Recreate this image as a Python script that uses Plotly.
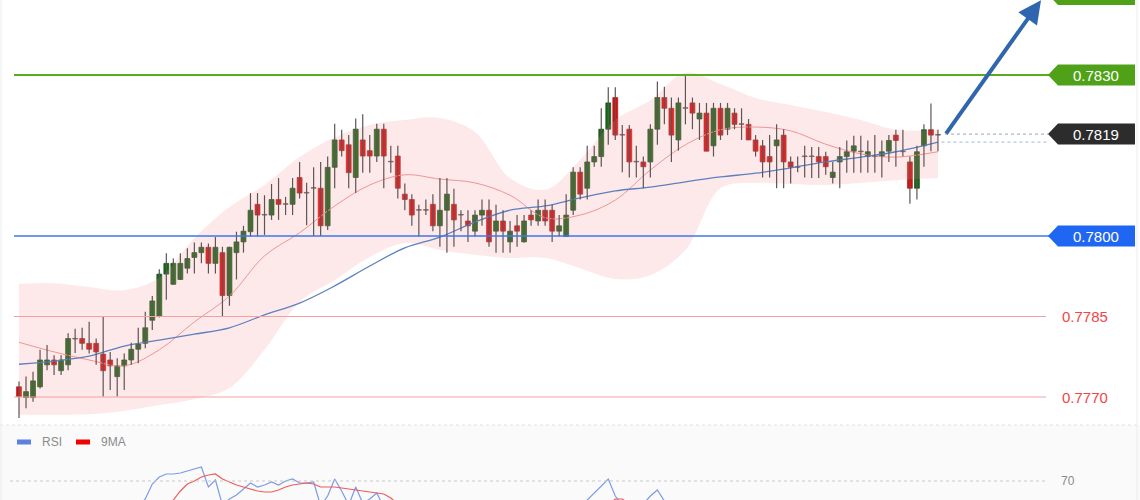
import plotly.graph_objects as go

W, H = 1140, 500

# ---------------- price data (candles, index 0..131) ----------------
opens = [0.77719, 0.77699, 0.77699, 0.77719, 0.77760, 0.77769, 0.77749, 0.77760, 0.77808, 0.77809,
         0.77800, 0.77800, 0.77780, 0.77769, 0.77738, 0.77758, 0.77769, 0.77789, 0.77800, 0.77843,
         0.77850, 0.77929, 0.77910, 0.77919, 0.77940, 0.77960, 0.77969, 0.77979, 0.77949, 0.77969,
         0.77889, 0.77969, 0.77989, 0.78008, 0.78059, 0.78039, 0.78039, 0.78068, 0.78059, 0.78059,
         0.78109, 0.78080, 0.78089, 0.78089, 0.78019, 0.78128, 0.78179, 0.78170, 0.78109, 0.78179,
         0.78159, 0.78149, 0.78199, 0.78138, 0.78149, 0.78078, 0.78068, 0.78048, 0.78048, 0.78059,
         0.78019, 0.78048, 0.78059, 0.78039, 0.78028, 0.78009, 0.78039, 0.78048, 0.78009, 0.78028,
         0.77989, 0.78019, 0.77989, 0.78039, 0.78028, 0.78048, 0.78048, 0.78009, 0.77999, 0.78048,
         0.78119, 0.78089, 0.78138, 0.78148, 0.78199, 0.78258, 0.78188, 0.78199, 0.78138, 0.78138,
         0.78138, 0.78199, 0.78258, 0.78238, 0.78179, 0.78238, 0.78248, 0.78218, 0.78229, 0.78168,
         0.78238, 0.78199, 0.78229, 0.78208, 0.78208, 0.78179, 0.78168, 0.78148, 0.78168, 0.78188,
         0.78138, 0.78128, 0.78148, 0.78148, 0.78148, 0.78148, 0.78109, 0.78138, 0.78148, 0.78158,
         0.78157, 0.78148, 0.78148, 0.78148, 0.78158, 0.78188, 0.78157, 0.78138, 0.78089, 0.78168,
         0.78198, 0.78188]
highs = [0.77729, 0.77738, 0.77747, 0.77788, 0.77797, 0.77778, 0.77778, 0.77819, 0.77827, 0.77829,
         0.77840, 0.77809, 0.77850, 0.77784, 0.77772, 0.77781, 0.77801, 0.77829, 0.77859, 0.77888,
         0.77938, 0.77968, 0.77958, 0.77968, 0.77977, 0.77988, 0.77988, 0.77986, 0.77998, 0.77980,
         0.77980, 0.78008, 0.78019, 0.78080, 0.78080, 0.78076, 0.78097, 0.78108, 0.78073, 0.78108,
         0.78138, 0.78099, 0.78128, 0.78138, 0.78148, 0.78209, 0.78198, 0.78188, 0.78219, 0.78227,
         0.78188, 0.78209, 0.78209, 0.78168, 0.78168, 0.78098, 0.78078, 0.78058, 0.78068, 0.78078,
         0.78108, 0.78108, 0.78088, 0.78048, 0.78048, 0.78048, 0.78068, 0.78068, 0.78058, 0.78048,
         0.78028, 0.78039, 0.78039, 0.78048, 0.78068, 0.78068, 0.78058, 0.78039, 0.78078, 0.78128,
         0.78128, 0.78168, 0.78168, 0.78238, 0.78277, 0.78277, 0.78207, 0.78207, 0.78168, 0.78148,
         0.78208, 0.78288, 0.78278, 0.78258, 0.78258, 0.78298, 0.78258, 0.78248, 0.78248, 0.78248,
         0.78248, 0.78248, 0.78238, 0.78238, 0.78218, 0.78188, 0.78179, 0.78188, 0.78208, 0.78199,
         0.78148, 0.78148, 0.78168, 0.78166, 0.78166, 0.78157, 0.78138, 0.78166, 0.78178, 0.78187,
         0.78187, 0.78178, 0.78188, 0.78178, 0.78188, 0.78198, 0.78198, 0.78148, 0.78168, 0.78208,
         0.78247, 0.78198]
lows = [0.77661, 0.77679, 0.77691, 0.77716, 0.77750, 0.77741, 0.77741, 0.77750, 0.77782, 0.77788,
        0.77781, 0.77760, 0.77701, 0.77713, 0.77701, 0.77713, 0.77760, 0.77763, 0.77791, 0.77825,
        0.77848, 0.77881, 0.77909, 0.77918, 0.77930, 0.77930, 0.77949, 0.77930, 0.77930, 0.77850,
        0.77870, 0.77919, 0.77969, 0.77999, 0.77999, 0.78002, 0.78030, 0.78030, 0.78039, 0.78039,
        0.78070, 0.78020, 0.78000, 0.78000, 0.78011, 0.78089, 0.78148, 0.78089, 0.78080, 0.78118,
        0.78118, 0.78138, 0.78089, 0.78118, 0.78070, 0.78048, 0.78019, 0.77999, 0.78039, 0.78009,
        0.77980, 0.77969, 0.77980, 0.78009, 0.77989, 0.77999, 0.78019, 0.77980, 0.77969, 0.77969,
        0.77969, 0.77980, 0.77988, 0.78019, 0.78019, 0.78019, 0.77989, 0.77999, 0.77999, 0.78039,
        0.78068, 0.78068, 0.78129, 0.78129, 0.78170, 0.78179, 0.78119, 0.78109, 0.78109, 0.78089,
        0.78109, 0.78170, 0.78208, 0.78138, 0.78159, 0.78208, 0.78199, 0.78179, 0.78158, 0.78148,
        0.78179, 0.78188, 0.78199, 0.78179, 0.78179, 0.78148, 0.78109, 0.78109, 0.78089, 0.78089,
        0.78098, 0.78119, 0.78109, 0.78108, 0.78108, 0.78114, 0.78098, 0.78089, 0.78118, 0.78118,
        0.78118, 0.78118, 0.78118, 0.78109, 0.78138, 0.78129, 0.78148, 0.78060, 0.78068, 0.78129,
        0.78158, 0.78158]
closes = [0.77701, 0.77710, 0.77730, 0.77769, 0.77769, 0.77760, 0.77769, 0.77809, 0.77808, 0.77800,
          0.77789, 0.77784, 0.77749, 0.77758, 0.77758, 0.77769, 0.77789, 0.77799, 0.77829, 0.77879,
          0.77929, 0.77949, 0.77949, 0.77949, 0.77958, 0.77969, 0.77979, 0.77949, 0.77979, 0.77889,
          0.77979, 0.77989, 0.78009, 0.78048, 0.78039, 0.78039, 0.78068, 0.78059, 0.78059, 0.78089,
          0.78080, 0.78080, 0.78089, 0.78019, 0.78128, 0.78179, 0.78159, 0.78118, 0.78199, 0.78149,
          0.78149, 0.78199, 0.78149, 0.78138, 0.78089, 0.78068, 0.78039, 0.78048, 0.78048, 0.78019,
          0.78048, 0.78078, 0.78030, 0.78039, 0.78019, 0.78039, 0.78048, 0.77989, 0.78028, 0.78009,
          0.78009, 0.78009, 0.78028, 0.78030, 0.78048, 0.78028, 0.78009, 0.78019, 0.78039, 0.78119,
          0.78078, 0.78138, 0.78148, 0.78199, 0.78248, 0.78188, 0.78188, 0.78138, 0.78138, 0.78129,
          0.78199, 0.78258, 0.78238, 0.78188, 0.78248, 0.78238, 0.78229, 0.78229, 0.78158, 0.78238,
          0.78188, 0.78238, 0.78208, 0.78208, 0.78179, 0.78158, 0.78138, 0.78138, 0.78179, 0.78138,
          0.78128, 0.78128, 0.78148, 0.78148, 0.78138, 0.78129, 0.78119, 0.78148, 0.78157, 0.78168,
          0.78157, 0.78157, 0.78148, 0.78157, 0.78178, 0.78178, 0.78157, 0.78089, 0.78157, 0.78198,
          0.78188, 0.78188]
candle_idx = list(range(len(closes)))

band_idx = [0, 5, 10, 15, 20, 25, 30, 35, 40, 45, 50, 55, 60, 65, 70, 75, 80, 85, 90, 95,
            100, 105, 110, 115, 120, 125, 131]
bb_upper = [0.77911, 0.77912, 0.77905, 0.77899, 0.77922, 0.77996, 0.78054, 0.78095, 0.78147, 0.78184,
            0.78207, 0.78216, 0.78220, 0.78194, 0.78108, 0.78086, 0.78142, 0.78216, 0.78253, 0.78304,
            0.78283, 0.78257, 0.78244, 0.78231, 0.78216, 0.78198, 0.78198]
bb_lower = [0.77667, 0.77667, 0.77668, 0.77674, 0.77685, 0.77696, 0.77717, 0.77788, 0.77877, 0.77918,
            0.77961, 0.77987, 0.77974, 0.77965, 0.77959, 0.77959, 0.77940, 0.77920, 0.77927, 0.77974,
            0.78089, 0.78099, 0.78097, 0.78095, 0.78099, 0.78104, 0.78108]
bb_mid = [0.77802, 0.77784, 0.77769, 0.77758, 0.77788, 0.77840, 0.77888, 0.77963, 0.78006, 0.78056,
          0.78095, 0.78114, 0.78106, 0.78099, 0.78076, 0.78034, 0.78039, 0.78067, 0.78123, 0.78170,
          0.78198, 0.78203, 0.78196, 0.78171, 0.78153, 0.78147, 0.78157]
ma_slow = [0.77761, 0.77767, 0.77776, 0.77795, 0.77806, 0.77817, 0.77829, 0.77853, 0.77875, 0.77907,
           0.77944, 0.77978, 0.77998, 0.78026, 0.78048, 0.78056, 0.78071, 0.78084, 0.78091, 0.78101,
           0.78110, 0.78117, 0.78127, 0.78138, 0.78147, 0.78157, 0.78175]

# ---------------- RSI panel ----------------
rsi_idx = list(range(16, 53)) + [None] + list(range(80, 94))
rsi_vals = [40, 44, 52, 67, 74, 77, 77, 78, 80, 82, 84, 64, 71, 46, 52, 56, 62, 68, 64, 66,
            69, 66, 70, 72, 68, 68, 69, 45, 55, 72, 60, 46, 64, 48, 52, 58, 44] + [None] + \
           [44, 51, 58, 66, 72, 55, 46, 44, 42, 47, 55, 61, 50, 44]
ma9_idx = list(range(20, 56)) + [None] + list(range(84, 88))
ma9_vals = [40, 45, 51, 60, 67, 70, 74, 76, 77, 72, 69, 66, 64, 62, 60, 59, 59, 61, 64, 66,
            67, 68, 67, 64, 64, 64, 63, 62, 61, 60, 59, 58, 57, 53, 47, 44] + [None] + \
           [46, 52, 52, 47]
rsi_level = 70

# ---------------- levels ----------------
target_level = 0.7845
resistance = 0.7830
last_price = 0.7819
support = 0.7800
pivots = [0.7785, 0.7770]

# ---------------- geometry helpers (layout only) ----------------
PX_PER_BAR = 7.015
FIRST_BAR_PX = 19
x_range = [-FIRST_BAR_PX / PX_PER_BAR, (W - FIRST_BAR_PX) / PX_PER_BAR]
main_top_px, main_bottom_px = 0, 425
ref_px_hi, ref_px_lo = 75, 397           # pixel rows of 0.7830 / 0.7770
ppu = (ref_px_lo - ref_px_hi) / (resistance - pivots[1])
y_top = resistance + (ref_px_hi - main_top_px) / ppu
y_bot = resistance - (main_bottom_px - ref_px_hi) / ppu
split = 1 - main_bottom_px / H


def px(xp):
    return xp / W


FONT = '"Liberation Sans", Arial, sans-serif'
GREEN = '#0b6e0b'
GREEN_EDGE = '#1f4222'
RED = '#ea0505'
RED_EDGE = '#9a2424'
WICK = '#5e5454'

fig = go.Figure()

# Bollinger band
fig.add_trace(go.Scatter(x=band_idx, y=bb_lower, mode='lines', line=dict(width=0, shape='spline'),
                         hoverinfo='skip', showlegend=False))
fig.add_trace(go.Scatter(x=band_idx, y=bb_upper, mode='lines', line=dict(width=0, shape='spline'),
                         fill='tonexty', fillcolor='rgba(245,150,150,0.21)',
                         hoverinfo='skip', showlegend=False))
fig.add_trace(go.Scatter(x=band_idx, y=bb_mid, mode='lines',
                         line=dict(width=1, color='#f39393', shape='spline'),
                         hoverinfo='skip', showlegend=False))
fig.add_trace(go.Scatter(x=band_idx, y=ma_slow, mode='lines',
                         line=dict(width=1.3, color='#5d80c0', shape='spline'),
                         hoverinfo='skip', showlegend=False))

# candle wicks
wx, wy = [], []
for i, h, l in zip(candle_idx, highs, lows):
    wx += [i, i, None]
    wy += [l, h, None]
fig.add_trace(go.Scatter(x=wx, y=wy, mode='lines', line=dict(width=1.2, color=WICK),
                         hoverinfo='skip', showlegend=False))

# candle bodies
body_base = [min(o, c) for o, c in zip(opens, closes)]
body_len = [max(abs(c - o), 0.000012) for o, c in zip(opens, closes)]
body_col = [GREEN if c > o else (RED if c < o else WICK) for o, c in zip(opens, closes)]
body_edge = [GREEN_EDGE if c > o else (RED_EDGE if c < o else WICK) for o, c in zip(opens, closes)]
fig.add_trace(go.Bar(x=candle_idx, y=body_len, base=body_base, width=0.7,
                     marker=dict(color=body_col, line=dict(color=body_edge, width=0.7)),
                     hoverinfo='skip', showlegend=False))

# RSI
fig.add_trace(go.Scatter(x=rsi_idx, y=rsi_vals, yaxis='y2', mode='lines',
                         line=dict(width=1.2, color='#7b9be8'), connectgaps=False,
                         hoverinfo='skip', showlegend=False))
fig.add_trace(go.Scatter(x=ma9_idx, y=ma9_vals, yaxis='y2', mode='lines',
                         line=dict(width=1.2, color='#f05a5a'), connectgaps=False,
                         hoverinfo='skip', showlegend=False))

shapes = []
annotations = []

# panel backgrounds / frame
shapes.append(dict(type='rect', xref='paper', yref='paper', x0=0, x1=1, y0=0, y1=split,
                   fillcolor='#fafafa', line=dict(width=0), layer='below'))
shapes.append(dict(type='line', xref='paper', yref='paper', x0=0, x1=1, y0=split, y1=split,
                   line=dict(color='#e2e2e2', width=1, dash='dot')))
shapes.append(dict(type='line', xref='paper', yref='paper', x0=px(1), x1=px(1), y0=0, y1=1,
                   line=dict(color='#ececec', width=1)))
shapes.append(dict(type='line', xref='paper', yref='paper', x0=px(1137), x1=px(1137), y0=0, y1=1,
                   line=dict(color='#ececec', width=1)))

# pivot lines (red)
for lv in pivots:
    shapes.append(dict(type='line', xref='paper', yref='y', x0=px(14), x1=px(1046), y0=lv, y1=lv,
                       line=dict(color='#f4a0a0', width=1.2), layer='above'))
    annotations.append(dict(xref='paper', yref='y', x=px(1060), y=lv, text=f'{lv:.4f}',
                            showarrow=False, xanchor='left', yanchor='middle',
                            font=dict(family=FONT, size=15, color='#f04646')))

# main levels
main_levels = [(target_level, '#5aaa1e', 2), (resistance, '#5aaa1e', 2), (support, '#3a78ee', 1.5)]
for lv, lc, lw in main_levels:
    shapes.append(dict(type='line', xref='paper', yref='y', x0=px(14), x1=px(1050), y0=lv, y1=lv,
                       line=dict(color=lc, width=lw), layer='above'))

# current price dotted lines
x_tag = (1048 - FIRST_BAR_PX) / PX_PER_BAR
shapes.append(dict(type='line', xref='x', yref='y', x0=candle_idx[-1] + 1, x1=x_tag,
                   y0=last_price, y1=last_price, line=dict(color='#aab6c8', width=1.2, dash='dot')))
shapes.append(dict(type='line', xref='x', yref='y', x0=candle_idx[-1] + 0.5, x1=x_tag,
                   y0=ma_slow[-1], y1=ma_slow[-1], line=dict(color='#b5c6e6', width=1.2, dash='dot')))

tag_path = 'M0,0 L10,10.5 L87,10.5 L87,-10.5 L10,-10.5 Z'
tags = [(target_level, '#4fa218'), (resistance, '#4fa218'), (last_price, '#2c2c2c'), (support, '#1f66f2')]
for lv, tc in tags:
    shapes.append(dict(type='path', xref='paper', yref='y', xsizemode='pixel', ysizemode='pixel',
                       xanchor=px(1048), yanchor=lv, path=tag_path, fillcolor=tc,
                       line=dict(width=0), layer='above'))
    annotations.append(dict(xref='paper', yref='y', x=px(1096), y=lv, text=f'{lv:.4f}',
                            showarrow=False, xanchor='center', yanchor='middle',
                            font=dict(family=FONT, size=15, color='white')))

# RSI 70 line and label
shapes.append(dict(type='line', xref='paper', yref='y2', x0=px(10), x1=px(1045), y0=rsi_level, y1=rsi_level,
                   line=dict(color='#c9c9c9', width=1, dash='dot')))
annotations.append(dict(xref='paper', yref='y2', x=px(1059), y=rsi_level, text=str(rsi_level),
                        showarrow=False, xanchor='left', yanchor='middle',
                        font=dict(family=FONT, size=12, color='#8a8a8a')))

# RSI legend
leg_y = 1 - 442 / H
for x0, x1, col, tx, label in [(17, 31, '#5b82e0', 40, 'RSI'), (76, 90, '#f00000', 99, '9MA')]:
    shapes.append(dict(type='rect', xref='paper', yref='paper', x0=px(x0), x1=px(x1),
                       y0=leg_y - 2.5 / H, y1=leg_y + 2.5 / H, fillcolor=col, line=dict(width=0)))
    annotations.append(dict(xref='paper', yref='paper', x=px(tx), y=leg_y, text=label,
                            showarrow=False, xanchor='left', yanchor='middle',
                            font=dict(family=FONT, size=12, color='#8a8a8a')))

# projection arrow
annotations.append(dict(xref='x', yref='y', axref='x', ayref='y',
                        x=(1041 - FIRST_BAR_PX) / PX_PER_BAR, y=y_top - 0.2 / ppu,
                        ax=candle_idx[-1] + 1, ay=closes[-1],
                        text='', showarrow=True, arrowhead=2, arrowsize=1.15, arrowwidth=4,
                        arrowcolor='#2f66ad'))

fig.update_layout(
    width=W, height=H,
    margin=dict(l=0, r=0, t=0, b=0),
    paper_bgcolor='white', plot_bgcolor='rgba(0,0,0,0)',
    showlegend=False, barmode='overlay',
    xaxis=dict(range=x_range, visible=False, fixedrange=True),
    yaxis=dict(range=[y_bot, y_top], domain=[split, 1], visible=False, fixedrange=True),
    yaxis2=dict(range=[rsi_level - (H - 481), rsi_level + (481 - main_bottom_px)], domain=[0, split],
                visible=False, anchor='x', fixedrange=True),
    shapes=shapes, annotations=annotations,
)

fig.write_html('out.html', config={'displayModeBar': False},
               post_script="document.body.style.margin='0px';")
